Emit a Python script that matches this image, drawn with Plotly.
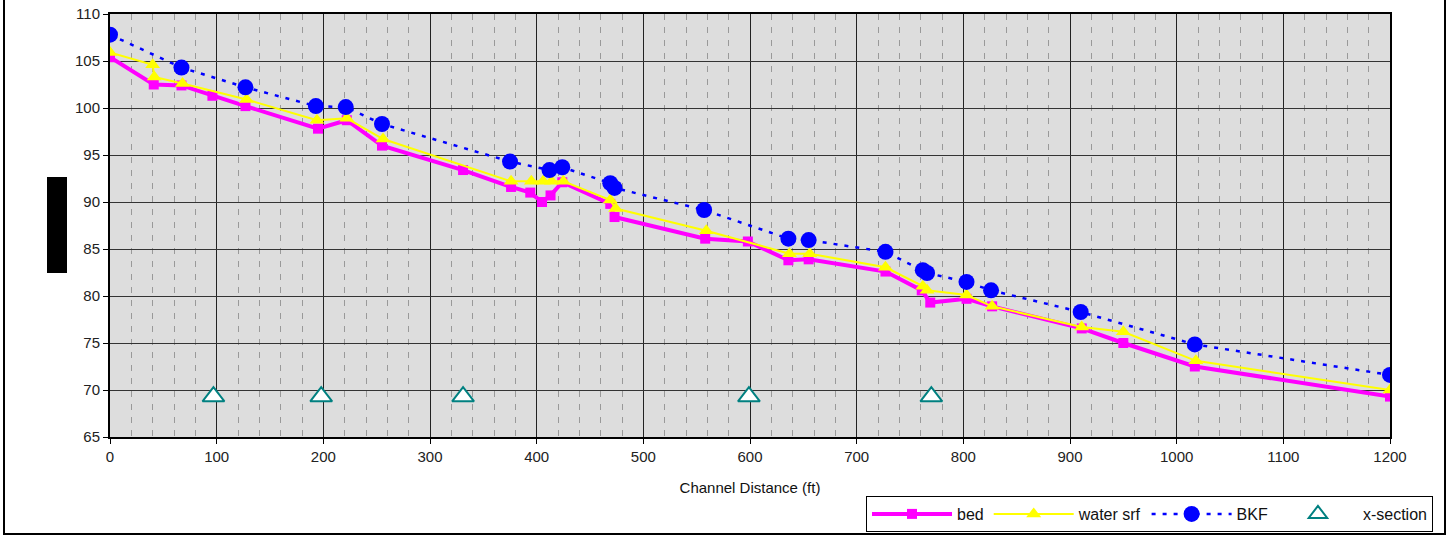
import plotly.graph_objects as go

# ---- data ----
bed_x = [0, 41, 67, 96, 127, 195, 222, 255, 331, 376, 394, 405, 413, 424, 469, 473, 558, 598,
         636, 655, 727, 761, 769, 803, 827, 911, 950, 1017, 1200]
bed_y = [105.4, 102.5, 102.4, 101.3, 100.2, 97.8, 98.7, 96.0, 93.4, 91.6, 91.0, 90.0, 90.7, 92.1,
         89.8, 88.4, 86.1, 85.8, 83.8, 83.9, 82.6, 80.6, 79.3, 79.7, 78.9, 76.55, 75.0, 72.5, 69.3]

wsrf_x = [0, 40, 41.5, 68, 128, 194, 222, 256, 376, 395, 406, 414, 425, 469, 474, 559,
          637, 656, 727, 762, 766, 803, 827, 911, 950, 1018, 1200]
wsrf_y = [105.9, 104.6, 103.3, 102.6, 100.9, 98.7, 98.9, 96.7, 92.2, 92.2, 92.2, 92.2, 92.2, 90.2, 89.3, 86.95,
          84.5, 84.5, 83.05, 81.05, 80.6, 80.1, 78.9, 76.7, 76.2, 73.1, 70.0]

bkf_x = [0, 67, 127, 193, 221, 255, 375, 412, 424, 469, 473, 557,
         636, 655, 727, 762, 766, 803, 826, 910, 1017, 1200]
bkf_y = [107.8, 104.3, 102.2, 100.2, 100.1, 98.3, 94.3, 93.4, 93.7, 92.0, 91.5, 89.15,
         86.1, 85.95, 84.7, 82.75, 82.45, 81.5, 80.6, 78.3, 74.85, 71.6]

xs_x = [97, 198, 331, 599, 770]
xs_y = [69.3, 69.3, 69.3, 69.3, 69.3]

x_ticks = [0, 100, 200, 300, 400, 500, 600, 700, 800, 900, 1000, 1100, 1200]
y_ticks = [65, 70, 75, 80, 85, 90, 95, 100, 105, 110]

FONT = "Liberation Sans, Arial, sans-serif"

fig = go.Figure()
fig.add_trace(go.Scatter(x=bed_x, y=bed_y, name="bed", mode="lines+markers",
                         line=dict(color="#FF00FF", width=4),
                         marker=dict(symbol="square", size=10, color="#FF00FF")))
fig.add_trace(go.Scatter(x=wsrf_x, y=wsrf_y, name="water srf", mode="lines+markers",
                         line=dict(color="#FFFF00", width=2),
                         marker=dict(symbol="triangle-up", size=13, color="#FFFF00")))
fig.add_trace(go.Scatter(x=bkf_x, y=bkf_y, name="BKF", mode="lines+markers",
                         line=dict(color="#0000FF", width=2.5, dash="4px,7px"),
                         marker=dict(symbol="circle", size=16, color="#0000FF")))
fig.add_trace(go.Scatter(x=xs_x, y=xs_y, name="x-section", mode="markers",
                         marker=dict(symbol="triangle-up", size=19, color="white",
                                     line=dict(color="#008080", width=2))))

axis_common = dict(showline=True, linecolor="black", linewidth=2, mirror=True,
                   ticks="outside", ticklen=5, tickcolor="black",
                   tickfont=dict(family=FONT, size=15, color="#222"),
                   zeroline=False)

fig.update_xaxes(range=[0, 1200], tickvals=x_ticks, showgrid=True, gridcolor="#222", gridwidth=1,
                 minor=dict(dtick=20, showgrid=True, gridcolor="#999999", griddash="6px,7px",
                            gridwidth=1, ticks=""),
                 title=dict(text="Channel Distance (ft)", font=dict(family=FONT, size=15, color="#111"),
                            standoff=18),
                 **axis_common)
fig.update_yaxes(range=[65, 110], tickvals=y_ticks, showgrid=True, gridcolor="#333", gridwidth=1,
                 **axis_common)

# redacted y-axis title block and outer frame
fig.add_shape(type="rect", xref="paper", yref="paper",
              x0=(47 - 110) / 1280, x1=(67 - 110) / 1280,
              y0=(437 - 273) / 423, y1=(437 - 177) / 423,
              fillcolor="black", line=dict(width=0), layer="above")
fig.add_shape(type="rect", xref="paper", yref="paper",
              x0=(4 - 110) / 1280, x1=(1445 - 110) / 1280,
              y0=(437 - 534) / 423, y1=1.2,
              fillcolor="rgba(0,0,0,0)", line=dict(color="black", width=2), layer="below")

fig.update_layout(
    width=1448, height=536,
    margin=dict(l=110, r=58, t=14, b=99, autoexpand=False),
    paper_bgcolor="white", plot_bgcolor="#DDDDDD",
    font=dict(family=FONT, size=15, color="#111"),
    showlegend=True,
    legend=dict(orientation="h", x=(866 - 110) / 1280, y=(437 - 496) / 423,
                xanchor="left", yanchor="top",
                bordercolor="black", borderwidth=1, bgcolor="white",
                font=dict(family=FONT, size=16, color="#111"),
                itemwidth=80, tracegroupgap=0),
)

fig.write_html("out.html", config={"displayModeBar": False},
               post_script="document.body.style.margin='0px';")
